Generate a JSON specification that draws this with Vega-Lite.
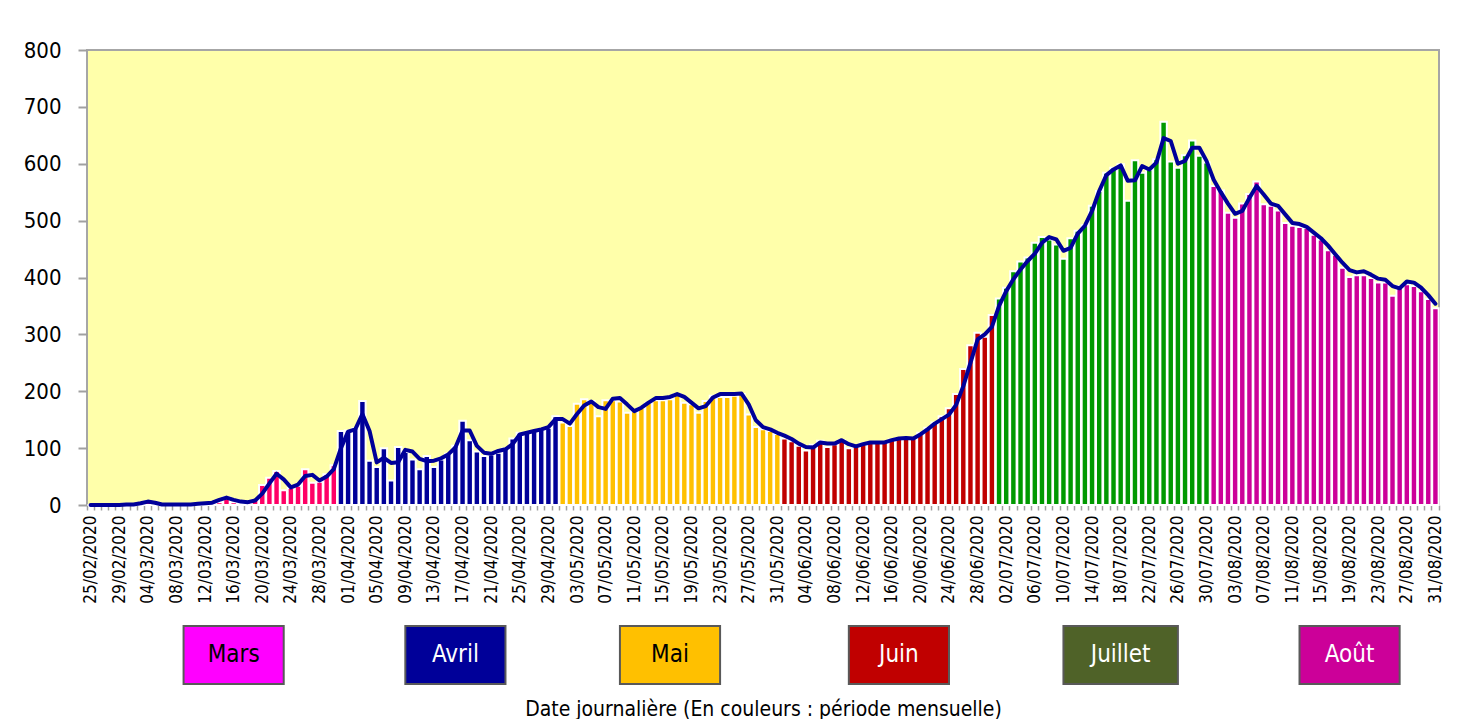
{
  "$schema": "https://vega.github.io/schema/vega-lite/v6.json",
  "background": "white",
  "padding": {"left": 22, "top": 38, "right": 20, "bottom": 0},
  "spacing": 20,
  "config": {"font": "DejaVu Sans Condensed, Liberation Sans Narrow, DejaVu Sans, sans-serif", "view": {"stroke": null}},
  "datasets": {
    "jours": [
      {"date": "25/02/2020", "mois": "Mars", "cas": 0, "moyenne": 0},
      {"date": "26/02/2020", "mois": "Mars", "cas": 0, "moyenne": 0},
      {"date": "27/02/2020", "mois": "Mars", "cas": 1, "moyenne": 0},
      {"date": "28/02/2020", "mois": "Mars", "cas": 0, "moyenne": 0},
      {"date": "29/02/2020", "mois": "Mars", "cas": 0, "moyenne": 0},
      {"date": "01/03/2020", "mois": "Mars", "cas": 2, "moyenne": 1},
      {"date": "02/03/2020", "mois": "Mars", "cas": 0, "moyenne": 1},
      {"date": "03/03/2020", "mois": "Mars", "cas": 2, "moyenne": 3},
      {"date": "04/03/2020", "mois": "Mars", "cas": 6, "moyenne": 6},
      {"date": "05/03/2020", "mois": "Mars", "cas": 2, "moyenne": 4},
      {"date": "06/03/2020", "mois": "Mars", "cas": 0, "moyenne": 1},
      {"date": "07/03/2020", "mois": "Mars", "cas": 0, "moyenne": 1},
      {"date": "08/03/2020", "mois": "Mars", "cas": 2, "moyenne": 1},
      {"date": "09/03/2020", "mois": "Mars", "cas": 1, "moyenne": 1},
      {"date": "10/03/2020", "mois": "Mars", "cas": 0, "moyenne": 1},
      {"date": "11/03/2020", "mois": "Mars", "cas": 2, "moyenne": 2},
      {"date": "12/03/2020", "mois": "Mars", "cas": 3, "moyenne": 3},
      {"date": "13/03/2020", "mois": "Mars", "cas": 4, "moyenne": 4},
      {"date": "14/03/2020", "mois": "Mars", "cas": 5, "moyenne": 9},
      {"date": "15/03/2020", "mois": "Mars", "cas": 14, "moyenne": 13},
      {"date": "16/03/2020", "mois": "Mars", "cas": 5, "moyenne": 9},
      {"date": "17/03/2020", "mois": "Mars", "cas": 3, "moyenne": 6},
      {"date": "18/03/2020", "mois": "Mars", "cas": 5, "moyenne": 5},
      {"date": "19/03/2020", "mois": "Mars", "cas": 9, "moyenne": 8},
      {"date": "20/03/2020", "mois": "Mars", "cas": 35, "moyenne": 20},
      {"date": "21/03/2020", "mois": "Mars", "cas": 48, "moyenne": 38},
      {"date": "22/03/2020", "mois": "Mars", "cas": 60, "moyenne": 55},
      {"date": "23/03/2020", "mois": "Mars", "cas": 26, "moyenne": 45},
      {"date": "24/03/2020", "mois": "Mars", "cas": 30, "moyenne": 31},
      {"date": "25/03/2020", "mois": "Mars", "cas": 34, "moyenne": 36},
      {"date": "26/03/2020", "mois": "Mars", "cas": 63, "moyenne": 51},
      {"date": "27/03/2020", "mois": "Mars", "cas": 39, "moyenne": 53},
      {"date": "28/03/2020", "mois": "Mars", "cas": 41, "moyenne": 43},
      {"date": "29/03/2020", "mois": "Mars", "cas": 54, "moyenne": 50},
      {"date": "30/03/2020", "mois": "Mars", "cas": 70, "moyenne": 63},
      {"date": "31/03/2020", "mois": "Avril", "cas": 130, "moyenne": 100},
      {"date": "01/04/2020", "mois": "Avril", "cas": 131, "moyenne": 129},
      {"date": "02/04/2020", "mois": "Avril", "cas": 135, "moyenne": 133},
      {"date": "03/04/2020", "mois": "Avril", "cas": 183, "moyenne": 160},
      {"date": "04/04/2020", "mois": "Avril", "cas": 78, "moyenne": 130},
      {"date": "05/04/2020", "mois": "Avril", "cas": 67, "moyenne": 75},
      {"date": "06/04/2020", "mois": "Avril", "cas": 100, "moyenne": 83},
      {"date": "07/04/2020", "mois": "Avril", "cas": 43, "moyenne": 74},
      {"date": "08/04/2020", "mois": "Avril", "cas": 102, "moyenne": 75},
      {"date": "09/04/2020", "mois": "Avril", "cas": 93, "moyenne": 97},
      {"date": "10/04/2020", "mois": "Avril", "cas": 80, "moyenne": 94},
      {"date": "11/04/2020", "mois": "Avril", "cas": 63, "moyenne": 81},
      {"date": "12/04/2020", "mois": "Avril", "cas": 86, "moyenne": 77},
      {"date": "13/04/2020", "mois": "Avril", "cas": 67, "moyenne": 78},
      {"date": "14/04/2020", "mois": "Avril", "cas": 80, "moyenne": 82},
      {"date": "15/04/2020", "mois": "Avril", "cas": 90, "moyenne": 89},
      {"date": "16/04/2020", "mois": "Avril", "cas": 104, "moyenne": 101},
      {"date": "17/04/2020", "mois": "Avril", "cas": 148, "moyenne": 131},
      {"date": "18/04/2020", "mois": "Avril", "cas": 114, "moyenne": 131},
      {"date": "19/04/2020", "mois": "Avril", "cas": 94, "moyenne": 104},
      {"date": "20/04/2020", "mois": "Avril", "cas": 86, "moyenne": 92},
      {"date": "21/04/2020", "mois": "Avril", "cas": 89, "moyenne": 90},
      {"date": "22/04/2020", "mois": "Avril", "cas": 92, "moyenne": 95},
      {"date": "23/04/2020", "mois": "Avril", "cas": 100, "moyenne": 98},
      {"date": "24/04/2020", "mois": "Avril", "cas": 117, "moyenne": 107},
      {"date": "25/04/2020", "mois": "Avril", "cas": 127, "moyenne": 124},
      {"date": "26/04/2020", "mois": "Avril", "cas": 127, "moyenne": 127},
      {"date": "27/04/2020", "mois": "Avril", "cas": 130, "moyenne": 130},
      {"date": "28/04/2020", "mois": "Avril", "cas": 133, "moyenne": 133},
      {"date": "29/04/2020", "mois": "Avril", "cas": 136, "moyenne": 137},
      {"date": "30/04/2020", "mois": "Avril", "cas": 156, "moyenne": 151},
      {"date": "01/05/2020", "mois": "Mai", "cas": 145, "moyenne": 151},
      {"date": "02/05/2020", "mois": "Mai", "cas": 139, "moyenne": 143},
      {"date": "03/05/2020", "mois": "Mai", "cas": 178, "moyenne": 160},
      {"date": "04/05/2020", "mois": "Mai", "cas": 186, "moyenne": 175},
      {"date": "05/05/2020", "mois": "Mai", "cas": 183, "moyenne": 182},
      {"date": "06/05/2020", "mois": "Mai", "cas": 156, "moyenne": 172},
      {"date": "07/05/2020", "mois": "Mai", "cas": 184, "moyenne": 169},
      {"date": "08/05/2020", "mois": "Mai", "cas": 184, "moyenne": 187},
      {"date": "09/05/2020", "mois": "Mai", "cas": 182, "moyenne": 188},
      {"date": "10/05/2020", "mois": "Mai", "cas": 162, "moyenne": 177},
      {"date": "11/05/2020", "mois": "Mai", "cas": 165, "moyenne": 165},
      {"date": "12/05/2020", "mois": "Mai", "cas": 171, "moyenne": 171},
      {"date": "13/05/2020", "mois": "Mai", "cas": 180, "moyenne": 180},
      {"date": "14/05/2020", "mois": "Mai", "cas": 184, "moyenne": 188},
      {"date": "15/05/2020", "mois": "Mai", "cas": 184, "moyenne": 188},
      {"date": "16/05/2020", "mois": "Mai", "cas": 186, "moyenne": 190},
      {"date": "17/05/2020", "mois": "Mai", "cas": 195, "moyenne": 195},
      {"date": "18/05/2020", "mois": "Mai", "cas": 180, "moyenne": 190},
      {"date": "19/05/2020", "mois": "Mai", "cas": 177, "moyenne": 180},
      {"date": "20/05/2020", "mois": "Mai", "cas": 162, "moyenne": 170},
      {"date": "21/05/2020", "mois": "Mai", "cas": 183, "moyenne": 174},
      {"date": "22/05/2020", "mois": "Mai", "cas": 192, "moyenne": 189},
      {"date": "23/05/2020", "mois": "Mai", "cas": 190, "moyenne": 195},
      {"date": "24/05/2020", "mois": "Mai", "cas": 190, "moyenne": 195},
      {"date": "25/05/2020", "mois": "Mai", "cas": 192, "moyenne": 195},
      {"date": "26/05/2020", "mois": "Mai", "cas": 195, "moyenne": 196},
      {"date": "27/05/2020", "mois": "Mai", "cas": 159, "moyenne": 177},
      {"date": "28/05/2020", "mois": "Mai", "cas": 137, "moyenne": 149},
      {"date": "29/05/2020", "mois": "Mai", "cas": 133, "moyenne": 137},
      {"date": "30/05/2020", "mois": "Mai", "cas": 130, "moyenne": 133},
      {"date": "31/05/2020", "mois": "Mai", "cas": 125, "moyenne": 127},
      {"date": "01/06/2020", "mois": "Juin", "cas": 117, "moyenne": 122},
      {"date": "02/06/2020", "mois": "Juin", "cas": 112, "moyenne": 116},
      {"date": "03/06/2020", "mois": "Juin", "cas": 104, "moyenne": 108},
      {"date": "04/06/2020", "mois": "Juin", "cas": 96, "moyenne": 102},
      {"date": "05/06/2020", "mois": "Juin", "cas": 106, "moyenne": 101},
      {"date": "06/06/2020", "mois": "Juin", "cas": 113, "moyenne": 110},
      {"date": "07/06/2020", "mois": "Juin", "cas": 102, "moyenne": 108},
      {"date": "08/06/2020", "mois": "Juin", "cas": 107, "moyenne": 108},
      {"date": "09/06/2020", "mois": "Juin", "cas": 114, "moyenne": 114},
      {"date": "10/06/2020", "mois": "Juin", "cas": 100, "moyenne": 107},
      {"date": "11/06/2020", "mois": "Juin", "cas": 104, "moyenne": 103},
      {"date": "12/06/2020", "mois": "Juin", "cas": 108, "moyenne": 107},
      {"date": "13/06/2020", "mois": "Juin", "cas": 110, "moyenne": 110},
      {"date": "14/06/2020", "mois": "Juin", "cas": 110, "moyenne": 110},
      {"date": "15/06/2020", "mois": "Juin", "cas": 111, "moyenne": 110},
      {"date": "16/06/2020", "mois": "Juin", "cas": 115, "moyenne": 114},
      {"date": "17/06/2020", "mois": "Juin", "cas": 118, "moyenne": 117},
      {"date": "18/06/2020", "mois": "Juin", "cas": 118, "moyenne": 118},
      {"date": "19/06/2020", "mois": "Juin", "cas": 118, "moyenne": 117},
      {"date": "20/06/2020", "mois": "Juin", "cas": 127, "moyenne": 124},
      {"date": "21/06/2020", "mois": "Juin", "cas": 136, "moyenne": 133},
      {"date": "22/06/2020", "mois": "Juin", "cas": 145, "moyenne": 143},
      {"date": "23/06/2020", "mois": "Juin", "cas": 156, "moyenne": 151},
      {"date": "24/06/2020", "mois": "Juin", "cas": 170, "moyenne": 159},
      {"date": "25/06/2020", "mois": "Juin", "cas": 195, "moyenne": 176},
      {"date": "26/06/2020", "mois": "Juin", "cas": 239, "moyenne": 209},
      {"date": "27/06/2020", "mois": "Juin", "cas": 281, "moyenne": 250},
      {"date": "28/06/2020", "mois": "Juin", "cas": 303, "moyenne": 291},
      {"date": "29/06/2020", "mois": "Juin", "cas": 296, "moyenne": 300},
      {"date": "30/06/2020", "mois": "Juin", "cas": 334, "moyenne": 313},
      {"date": "01/07/2020", "mois": "Juillet", "cas": 363, "moyenne": 350},
      {"date": "02/07/2020", "mois": "Juillet", "cas": 382, "moyenne": 376},
      {"date": "03/07/2020", "mois": "Juillet", "cas": 411, "moyenne": 397},
      {"date": "04/07/2020", "mois": "Juillet", "cas": 428, "moyenne": 414},
      {"date": "05/07/2020", "mois": "Juillet", "cas": 435, "moyenne": 429},
      {"date": "06/07/2020", "mois": "Juillet", "cas": 461, "moyenne": 442},
      {"date": "07/07/2020", "mois": "Juillet", "cas": 471, "moyenne": 461},
      {"date": "08/07/2020", "mois": "Juillet", "cas": 467, "moyenne": 471},
      {"date": "09/07/2020", "mois": "Juillet", "cas": 458, "moyenne": 467},
      {"date": "10/07/2020", "mois": "Juillet", "cas": 433, "moyenne": 447},
      {"date": "11/07/2020", "mois": "Juillet", "cas": 469, "moyenne": 452},
      {"date": "12/07/2020", "mois": "Juillet", "cas": 482, "moyenne": 477},
      {"date": "13/07/2020", "mois": "Juillet", "cas": 492, "moyenne": 491},
      {"date": "14/07/2020", "mois": "Juillet", "cas": 526, "moyenne": 517},
      {"date": "15/07/2020", "mois": "Juillet", "cas": 552, "moyenne": 552},
      {"date": "16/07/2020", "mois": "Juillet", "cas": 584, "moyenne": 580},
      {"date": "17/07/2020", "mois": "Juillet", "cas": 593, "moyenne": 590},
      {"date": "18/07/2020", "mois": "Juillet", "cas": 599, "moyenne": 597},
      {"date": "19/07/2020", "mois": "Juillet", "cas": 535, "moyenne": 570},
      {"date": "20/07/2020", "mois": "Juillet", "cas": 606, "moyenne": 571},
      {"date": "21/07/2020", "mois": "Juillet", "cas": 584, "moyenne": 596},
      {"date": "22/07/2020", "mois": "Juillet", "cas": 590, "moyenne": 590},
      {"date": "23/07/2020", "mois": "Juillet", "cas": 608, "moyenne": 602},
      {"date": "24/07/2020", "mois": "Juillet", "cas": 674, "moyenne": 645},
      {"date": "25/07/2020", "mois": "Juillet", "cas": 604, "moyenne": 640},
      {"date": "26/07/2020", "mois": "Juillet", "cas": 593, "moyenne": 600},
      {"date": "27/07/2020", "mois": "Juillet", "cas": 615, "moyenne": 605},
      {"date": "28/07/2020", "mois": "Juillet", "cas": 641, "moyenne": 628},
      {"date": "29/07/2020", "mois": "Juillet", "cas": 614, "moyenne": 628},
      {"date": "30/07/2020", "mois": "Juillet", "cas": 602, "moyenne": 605},
      {"date": "31/07/2020", "mois": "Août", "cas": 561, "moyenne": 572},
      {"date": "01/08/2020", "mois": "Août", "cas": 553, "moyenne": 550},
      {"date": "02/08/2020", "mois": "Août", "cas": 514, "moyenne": 530},
      {"date": "03/08/2020", "mois": "Août", "cas": 505, "moyenne": 512},
      {"date": "04/08/2020", "mois": "Août", "cas": 530, "moyenne": 517},
      {"date": "05/08/2020", "mois": "Août", "cas": 547, "moyenne": 540},
      {"date": "06/08/2020", "mois": "Août", "cas": 569, "moyenne": 561},
      {"date": "07/08/2020", "mois": "Août", "cas": 529, "moyenne": 546},
      {"date": "08/08/2020", "mois": "Août", "cas": 526, "moyenne": 530},
      {"date": "09/08/2020", "mois": "Août", "cas": 518, "moyenne": 526},
      {"date": "10/08/2020", "mois": "Août", "cas": 496, "moyenne": 511},
      {"date": "11/08/2020", "mois": "Août", "cas": 491, "moyenne": 496},
      {"date": "12/08/2020", "mois": "Août", "cas": 489, "moyenne": 494},
      {"date": "13/08/2020", "mois": "Août", "cas": 487, "moyenne": 489},
      {"date": "14/08/2020", "mois": "Août", "cas": 475, "moyenne": 479},
      {"date": "15/08/2020", "mois": "Août", "cas": 467, "moyenne": 469},
      {"date": "16/08/2020", "mois": "Août", "cas": 448, "moyenne": 456},
      {"date": "17/08/2020", "mois": "Août", "cas": 440, "moyenne": 441},
      {"date": "18/08/2020", "mois": "Août", "cas": 417, "moyenne": 426},
      {"date": "19/08/2020", "mois": "Août", "cas": 401, "moyenne": 413},
      {"date": "20/08/2020", "mois": "Août", "cas": 404, "moyenne": 409},
      {"date": "21/08/2020", "mois": "Août", "cas": 404, "moyenne": 411},
      {"date": "22/08/2020", "mois": "Août", "cas": 399, "moyenne": 405},
      {"date": "23/08/2020", "mois": "Août", "cas": 391, "moyenne": 398},
      {"date": "24/08/2020", "mois": "Août", "cas": 391, "moyenne": 396},
      {"date": "25/08/2020", "mois": "Août", "cas": 368, "moyenne": 385},
      {"date": "26/08/2020", "mois": "Août", "cas": 385, "moyenne": 381},
      {"date": "27/08/2020", "mois": "Août", "cas": 388, "moyenne": 393},
      {"date": "28/08/2020", "mois": "Août", "cas": 385, "moyenne": 391},
      {"date": "29/08/2020", "mois": "Août", "cas": 376, "moyenne": 382},
      {"date": "30/08/2020", "mois": "Août", "cas": 362, "moyenne": 369},
      {"date": "31/08/2020", "mois": "Août", "cas": 346, "moyenne": 354}
    ],
    "legende": [
      {"mois": "Mars", "debut": "2020-03-09", "fin": "2020-03-23", "milieu": "2020-03-16"},
      {"mois": "Avril", "debut": "2020-04-09", "fin": "2020-04-23", "milieu": "2020-04-16"},
      {"mois": "Mai", "debut": "2020-05-09", "fin": "2020-05-23", "milieu": "2020-05-16"},
      {"mois": "Juin", "debut": "2020-06-10", "fin": "2020-06-24", "milieu": "2020-06-17"},
      {"mois": "Juillet", "debut": "2020-07-10", "fin": "2020-07-26", "milieu": "2020-07-18"},
      {"mois": "Août", "debut": "2020-08-12", "fin": "2020-08-26", "milieu": "2020-08-19"}
    ]
  },
  "vconcat": [
    {
      "width": 1352,
      "height": 455,
      "data": {"name": "jours"},
      "view": {"fill": "#FFFFAA", "stroke": "#A6A6A6", "strokeWidth": 2},
      "encoding": {
        "x": {
          "field": "date",
          "type": "ordinal",
          "sort": null,
          "scale": {"paddingInner": 0.1, "paddingOuter": 0.05},
          "axis": {
            "title": null,
            "domain": false,
            "labelAngle": -90,
            "labelFontSize": 17,
            "labelColor": "#000000",
            "labelPadding": 5,
            "labelOverlap": false,
            "tickBand": "extent",
            "tickSize": 5,
            "tickColor": "#A0A0A0",
            "tickWidth": 1.5,
            "labelExpr": "indexof(['25/02/2020','29/02/2020','04/03/2020','08/03/2020','12/03/2020','16/03/2020','20/03/2020','24/03/2020','28/03/2020','01/04/2020','05/04/2020','09/04/2020','13/04/2020','17/04/2020','21/04/2020','25/04/2020','29/04/2020','03/05/2020','07/05/2020','11/05/2020','15/05/2020','19/05/2020','23/05/2020','27/05/2020','31/05/2020','04/06/2020','08/06/2020','12/06/2020','16/06/2020','20/06/2020','24/06/2020','28/06/2020','02/07/2020','06/07/2020','10/07/2020','14/07/2020','18/07/2020','22/07/2020','26/07/2020','30/07/2020','03/08/2020','07/08/2020','11/08/2020','15/08/2020','19/08/2020','23/08/2020','27/08/2020','31/08/2020'], datum.value) >= 0 ? datum.value : ''"
          }
        }
      },
      "layer": [
        {
          "mark": {"type": "bar", "stroke": "#FFFFFF", "strokeWidth": 2},
          "encoding": {
            "y": {
              "field": "cas",
              "type": "quantitative",
              "scale": {"domain": [0, 800], "nice": false},
              "axis": {
                "title": null,
                "values": [0, 100, 200, 300, 400, 500, 600, 700, 800],
                "grid": false,
                "domain": false,
                "labelFontSize": 22,
                "labelColor": "#000000",
                "labelPadding": 17,
                "tickSize": 9,
                "tickColor": "#A0A0A0",
                "tickWidth": 2
              }
            },
            "color": {
              "field": "mois",
              "type": "nominal",
              "scale": {
                "domain": ["Mars", "Avril", "Mai", "Juin", "Juillet", "Août"],
                "range": ["#FF0066", "#000099", "#FFC000", "#C00000", "#009900", "#CC0099"]
              },
              "legend": null
            }
          }
        },
        {
          "mark": {"type": "line", "color": "#000099", "strokeWidth": 4, "strokeJoin": "round", "strokeCap": "round"},
          "encoding": {
            "y": {"field": "moyenne", "type": "quantitative"}
          }
        }
      ]
    },
    {
      "width": 1352,
      "height": 58,
      "data": {"name": "legende"},
      "view": {"stroke": null, "fill": null},
      "layer": [
        {
          "mark": {"type": "rect", "stroke": "#595959", "strokeWidth": 2},
          "encoding": {
            "x": {
              "field": "debut",
              "type": "temporal",
              "scale": {
                "type": "utc",
                "domain": [
                  {"year": 2020, "month": 2, "date": 24, "hours": 12, "utc": true},
                  {"year": 2020, "month": 8, "date": 31, "hours": 12, "utc": true}
                ]
              },
              "axis": {
                "title": "Date journalière (En couleurs :  période mensuelle)",
                "titleFontSize": 21,
                "titleFontWeight": "normal",
                "titleColor": "#000000",
                "titlePadding": 14,
                "labels": false,
                "ticks": false,
                "domain": false,
                "grid": false
              }
            },
            "x2": {"field": "fin"},
            "color": {
              "field": "mois",
              "type": "nominal",
              "scale": {
                "domain": ["Mars", "Avril", "Mai", "Juin", "Juillet", "Août"],
                "range": ["#FF00FF", "#000099", "#FFC000", "#C00000", "#4F6228", "#CC0099"]
              },
              "legend": null
            }
          }
        },
        {
          "mark": {"type": "text", "fontSize": 24},
          "encoding": {
            "x": {"field": "milieu", "type": "temporal"},
            "text": {"field": "mois"},
            "color": {
              "field": "mois",
              "type": "nominal",
              "scale": {
                "domain": ["Mars", "Avril", "Mai", "Juin", "Juillet", "Août"],
                "range": ["#000000", "#FFFFFF", "#000000", "#FFFFFF", "#FFFFFF", "#FFFFFF"]
              },
              "legend": null
            }
          }
        }
      ],
      "resolve": {"scale": {"color": "independent"}}
    }
  ]
}
